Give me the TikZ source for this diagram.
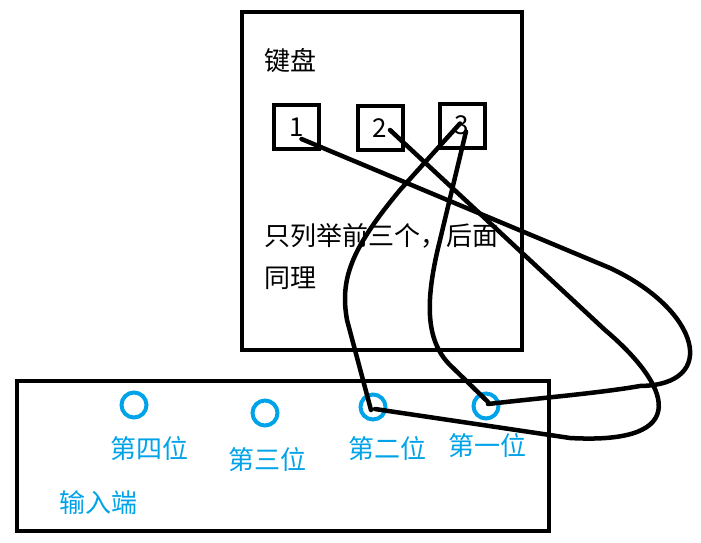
\documentclass[tikz,border=0pt]{standalone}
\usepackage{fontspec}
\setmainfont{Noto Sans CJK SC}
\usetikzlibrary{positioning}
\definecolor{paintblue}{RGB}{0,162,232}
\begin{document}
\begin{tikzpicture}[x=1pt,y=-1pt,font=\fontsize{26}{42}\selectfont,
  frame/.style={draw,line width=4pt},
  keybox/.style={draw,line width=4pt,minimum width=45pt,minimum height=44pt,inner sep=0pt},
  port/.style={circle,draw=paintblue,line width=4pt,minimum size=25pt,inner sep=0pt},
  wire/.style={line width=4.5pt,line cap=round,line join=round}]
\useasboundingbox (0,0) rectangle (701,543);
\draw[frame] (242,12) rectangle (522,350);
\draw[frame] (17,381) rectangle (549,531);
\node[anchor=west] (kbd) at (261,61) {键盘};
\node[anchor=west,align=left] (note) at (261,257) {只列举前三个，后面\\同理};
\foreach \n/\x/\y in {1/296.5/127,2/380/128,3/462/125.5}
  \node[keybox] (k\n) at (\x,\y) {\n};
\foreach \n/\x/\y/\lx/\ly/\lab in {4/134/405/149/449/第四位,3/265/413/267/460/第三位,2/373/407/387/449/第二位,1/486/406/487/446/第一位} {
  \node[port] (c\n) at (\x,\y) {};
  \node[text=paintblue] (l\n) at (\lx,\ly) {\lab};}
\node[text=paintblue] (inp) at (98,503) {输入端};
\draw[wire] ([shift={(5,12)}]k1.center) -- (610,268) .. controls (700,310) and (720,385) .. (640,386) .. controls (600,393) and (540,398) .. ([shift={(2,-2)}]c1.center);
\draw[wire] ([shift={(10,2)}]k2.center) -- (605,330) .. controls (670,385) and (695,445) .. (570,438) -- ([shift={(2,2)}]c2.center);
\draw[wire] ([shift={(-2,-2)}]k3.center) -- (400,190) .. controls (350,250) and (340,280) .. (347,320) -- ([shift={(-2,3)}]c2.center);
\draw[wire] ([shift={(4,6)}]k3.center) -- (440,240) .. controls (425,300) and (425,340) .. (450,365) -- ([shift={(2,-4)}]c1.center);
\end{tikzpicture}
\end{document}
